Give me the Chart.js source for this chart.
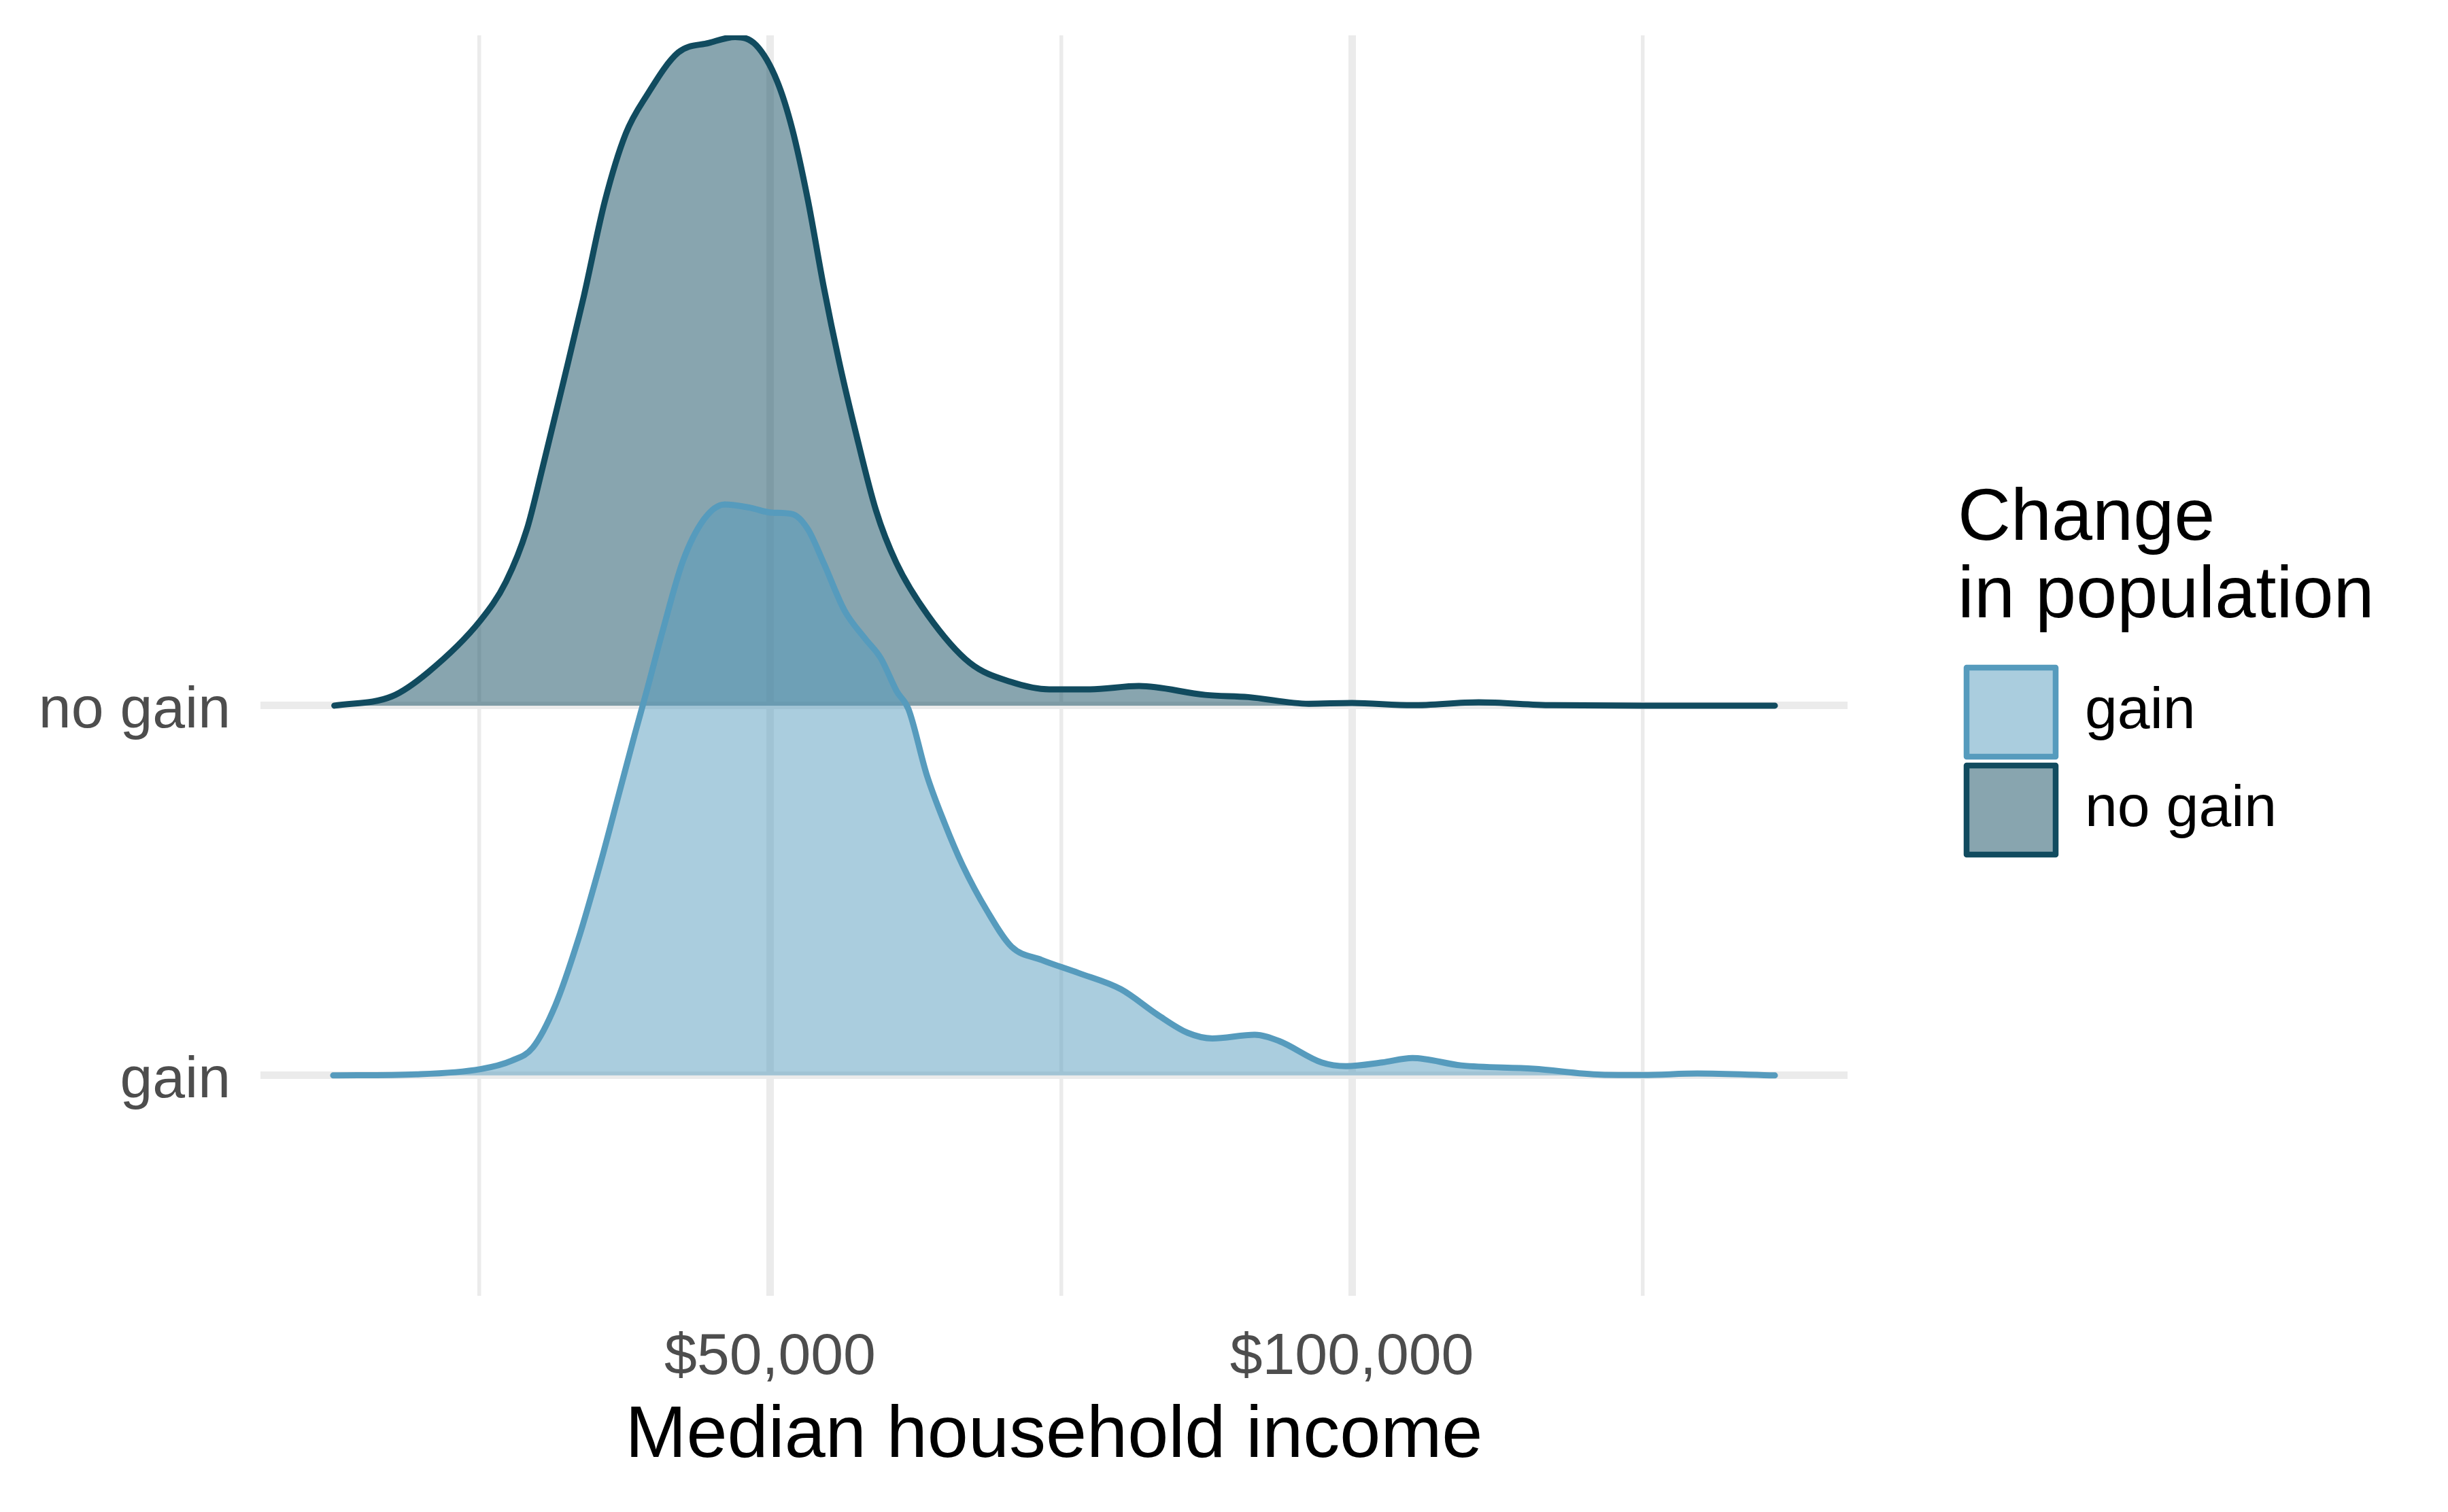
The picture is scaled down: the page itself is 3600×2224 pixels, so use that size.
<!DOCTYPE html>
<html>
<head>
<meta charset="utf-8">
<script src="https://cdn.jsdelivr.net/npm/chart.js@4/dist/chart.umd.min.js"></script>
<style>
    html, body { margin: 0; padding: 0; background: #ffffff; }
    #wrap { width: 3600px; height: 2224px; }
</style>
</head>
<body>
<div id="wrap"><canvas id="ridgeChart"></canvas></div>
<script>
// ridge rows, bottom to top
const rowLabels = ['gain', 'no gain'];

// x ticks: gridlines every 25k, labels only on the major ones
const gridBreaks = [25000, 50000, 75000, 100000, 125000];
const labelledBreaks = [50000, 100000];

// density ridges (income in $, ridge height in row units)
const gainIncome = [12450, 19600, 25100, 27800, 29600, 31550, 33500, 35450, 37000, 38350,
    39400, 40750, 42500, 44300, 46100, 48300, 50100, 51900, 53250, 54600,
    56400, 58200, 59500, 60900, 61900, 63450, 65000, 66550, 68650, 70750,
    73350, 76500, 80150, 83300, 85900, 88000, 91650, 93750, 97400, 99500,
    102600, 105200, 109400, 115600, 121400, 125000, 129700, 136350];
const gainHeight = [0, 0.003, 0.017, 0.04, 0.075, 0.19, 0.366, 0.577, 0.76, 0.92,
    1.04, 1.2, 1.39, 1.503, 1.544, 1.535, 1.522, 1.518, 1.477, 1.386,
    1.257, 1.18, 1.129, 1.038, 0.99, 0.814, 0.682, 0.568, 0.445, 0.348,
    0.312, 0.277, 0.233, 0.164, 0.115, 0.1, 0.11, 0.093, 0.035, 0.025,
    0.035, 0.047, 0.027, 0.018, 0.002, 0.001, 0.005, 0];

const noGainIncome = [12550, 17500, 20600, 25100, 27300, 29100, 30450, 32250, 34000, 35800,
    37600, 39400, 42100, 44750, 47000, 48800, 50600, 51900, 53250, 54600,
    55950, 57300, 59100, 60850, 63550, 67150, 70700, 74000, 77500, 81700,
    87400, 91100, 96300, 100000, 105200, 110900, 117200, 125000, 136350];
const noGainHeight = [0, 0.025, 0.09, 0.23, 0.335, 0.477, 0.644, 0.877, 1.108, 1.364,
    1.547, 1.65, 1.766, 1.792, 1.808, 1.786, 1.689, 1.56, 1.367, 1.134,
    0.928, 0.747, 0.528, 0.386, 0.245, 0.116, 0.064, 0.044, 0.044, 0.053,
    0.029, 0.023, 0.005, 0.007, 0.001, 0.009, 0.001, 0, 0];

const gainColor = '#569BBD';
const noGainColor = '#114B5F';

function ridgePoints(income, height, row) {
    return income.map((x, i) => ({ x: x, y: row + height[i] }));
}

function formatDollars(value) {
    return '$' + value.toLocaleString('en-US');
}

// keep the legend column a fixed width so the panel lines up
const legendWidthPlugin = {
    id: 'legendWidth',
    afterInit(chart) {
        const legend = chart.legend;
        const fit = legend.fit;
        legend.fit = function () {
            fit.call(this);
            this.width = 721;
        };
    }
};

function createRidgeChart() {
    Chart.defaults.font.family = "'Liberation Sans', Arial, Helvetica, sans-serif";
    const ctx = document.getElementById('ridgeChart').getContext('2d');
    return new Chart(ctx, {
        type: 'line',
        data: {
            datasets: [{
                label: rowLabels[0],
                data: ridgePoints(gainIncome, gainHeight, 1),
                borderColor: gainColor,
                backgroundColor: 'rgba(86, 155, 189, 0.5)',
                borderWidth: 9,
                borderCapStyle: 'round',
                borderJoinStyle: 'round',
                fill: { value: 1 },
                cubicInterpolationMode: 'monotone',
                pointRadius: 0
            }, {
                label: rowLabels[1],
                data: ridgePoints(noGainIncome, noGainHeight, 2),
                borderColor: noGainColor,
                backgroundColor: 'rgba(17, 75, 95, 0.5)',
                borderWidth: 9,
                borderCapStyle: 'round',
                borderJoinStyle: 'round',
                fill: { value: 2 },
                cubicInterpolationMode: 'monotone',
                pointRadius: 0
            }]
        },
        options: {
            responsive: true,
            maintainAspectRatio: false,
            animation: false,
            events: [],
            layout: { padding: 0 },
            scales: {
                x: {
                    type: 'linear',
                    min: 6200,
                    max: 142600,
                    afterBuildTicks: (scale) => {
                        scale.ticks = gridBreaks.map(v => ({ value: v }));
                    },
                    afterFit: (scale) => { scale.height = 318; },
                    ticks: {
                        autoSkip: false,
                        maxRotation: 0,
                        padding: 40,
                        color: '#4d4d4d',
                        font: { size: 86 },
                        callback: (value) => labelledBreaks.includes(value) ? formatDollars(value) : ''
                    },
                    grid: {
                        color: '#ebebeb',
                        drawTicks: false,
                        lineWidth: (c) => labelledBreaks.includes(c.tick.value) ? 11 : 5.5
                    },
                    border: { display: false },
                    title: {
                        display: true,
                        text: 'Median household income',
                        color: '#000000',
                        font: { size: 108 },
                        padding: { top: 0, bottom: 46 }
                    }
                },
                y: {
                    type: 'linear',
                    min: 0.404,
                    max: 3.8125,
                    afterBuildTicks: (scale) => {
                        scale.ticks = rowLabels.map((_, i) => ({ value: i + 1 }));
                    },
                    afterFit: (scale) => { scale.width = 383; },
                    ticks: {
                        padding: 44,
                        labelOffset: 8,
                        color: '#4d4d4d',
                        // small line height: half a label + padding sets the panel's top margin
                        font: { size: 86, lineHeight: 0.186 },
                        callback: (value) => rowLabels[value - 1]
                    },
                    grid: { color: '#ebebeb', lineWidth: 11, drawTicks: false },
                    border: { display: false }
                },
                // empty spacer between panel and legend
                spacer: {
                    type: 'linear',
                    position: 'right',
                    display: true,
                    ticks: { display: false },
                    grid: { display: false },
                    border: { display: false },
                    afterFit: (scale) => { scale.width = 162; }
                }
            },
            plugins: {
                tooltip: { enabled: false },
                legend: {
                    position: 'right',
                    align: 'start',
                    title: {
                        display: true,
                        text: ['Change', 'in population'],
                        color: '#000000',
                        position: 'start',
                        font: { size: 108, lineHeight: 1.051 },
                        padding: { top: 710.5, bottom: 145 }
                    },
                    labels: {
                        color: '#000000',
                        font: { size: 86 },
                        boxWidth: 131,
                        boxHeight: 131,
                        padding: 13,
                        generateLabels: (chart) => {
                            const items = Chart.defaults.plugins.legend.labels.generateLabels(chart);
                            items.forEach(item => { item.lineWidth = 8.5; });
                            return items;
                        }
                    }
                }
            }
        },
        plugins: [legendWidthPlugin]
    });
}

document.addEventListener('DOMContentLoaded', createRidgeChart);
</script>
</body>
</html>
